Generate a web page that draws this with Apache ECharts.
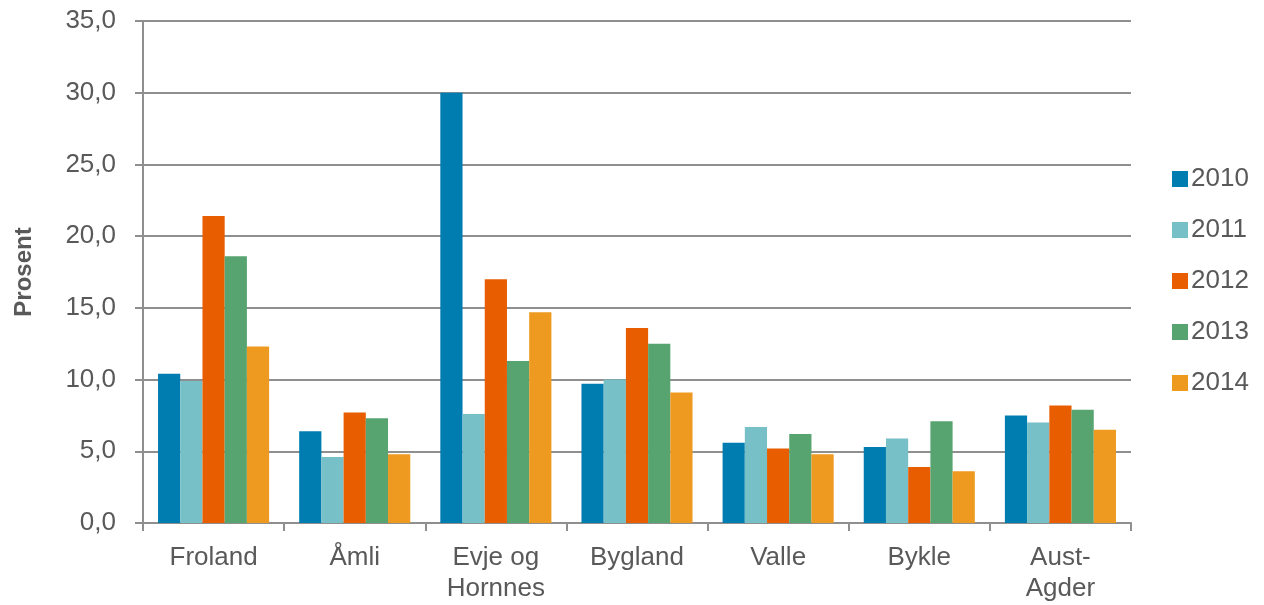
<!DOCTYPE html>
<html>
<head>
<meta charset="utf-8">
<script src="https://cdn.jsdelivr.net/npm/echarts@6/dist/echarts.min.js"></script>
<style>html,body{margin:0;padding:0;background:#fff}#c{width:1264px;height:605px}</style>
</head>
<body>
<div id="c"></div>
<script>
const categories = ['Froland', 'Åmli', 'Evje og\nHornnes', 'Bygland', 'Valle', 'Bykle', 'Aust-\nAgder'];
const years = ['2010', '2011', '2012', '2013', '2014'];
const v2010 = [10.4, 6.4, 30.0, 9.7, 5.6, 5.3, 7.5];
const v2011 = [9.9, 4.6, 7.6, 10.0, 6.7, 5.9, 7.0];
const v2012 = [21.4, 7.7, 17.0, 13.6, 5.2, 3.9, 8.2];
const v2013 = [18.6, 7.3, 11.3, 12.5, 6.2, 7.1, 7.9];
const v2014 = [12.3, 4.8, 14.7, 9.1, 4.8, 3.6, 6.5];
const colors = ['#007DB0', '#77C0C8', '#E85D00', '#57A470', '#EE9920'];
const values = [v2010, v2011, v2012, v2013, v2014];

const font = 'Liberation Sans, Arial, sans-serif';
const textColor = '#595959';
const lineColor = '#8f8f8f';

const chart = echarts.init(document.getElementById('c'), null, {renderer: 'canvas'});
chart.setOption({
  animation: false,
  backgroundColor: '#fff',
  grid: {left: 143, right: 133, top: 21, bottom: 82, containLabel: false},
  legend: {
    orient: 'vertical',
    left: 1167,
    top: 161,
    itemWidth: 16,
    itemHeight: 16,
    itemGap: 25,
    icon: 'rect',
    textStyle: {fontFamily: font, fontSize: 26, color: textColor, padding: [0, 0, 0, -2]},
    data: years
  },
  xAxis: {
    type: 'category',
    data: categories,
    axisLine: {lineStyle: {color: lineColor, width: 2}},
    axisTick: {show: true, length: 8, lineStyle: {color: lineColor, width: 2}},
    axisLabel: {fontFamily: font, fontSize: 26, color: textColor, margin: 19, lineHeight: 31, interval: 0}
  },
  yAxis: {
    type: 'value',
    min: 0, max: 35, interval: 5,
    name: 'Prosent',
    nameLocation: 'middle',
    nameGap: 107,
    nameRotate: 90,
    nameTextStyle: {fontFamily: font, fontSize: 24, fontWeight: 'bold', color: textColor},
    axisLine: {show: true, lineStyle: {color: lineColor, width: 2}},
    axisTick: {show: true, length: 8, lineStyle: {color: lineColor, width: 2}},
    splitLine: {lineStyle: {color: lineColor, width: 2}},
    axisLabel: {fontFamily: font, fontSize: 26, color: textColor, margin: 27,
      formatter: v => v.toFixed(1).replace('.', ',')}
  },
  series: years.map((y, i) => ({
    name: y,
    type: 'bar',
    data: values[i],
    barGap: '0%',
    barCategoryGap: '21.3%',
    itemStyle: {color: colors[i]}
  }))
});
</script>
</body>
</html>
